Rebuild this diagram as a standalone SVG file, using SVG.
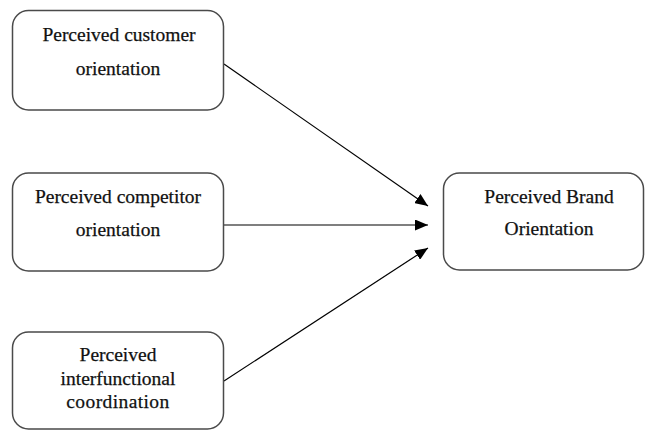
<svg xmlns="http://www.w3.org/2000/svg" width="645" height="430" viewBox="0 0 645 430">
<style>
.box{fill:#fff;stroke:#4a4a4a;stroke-width:1.5}
.t{font-family:"Liberation Serif","Times New Roman",serif;font-size:19.5px;fill:#111;stroke:#111;stroke-width:0.25;text-anchor:middle}
.c{stroke:#000;stroke-width:1.2;fill:none}
</style>
<defs>
<marker id="ah" markerWidth="13" markerHeight="11" refX="13" refY="5.5" orient="auto" markerUnits="userSpaceOnUse">
<path d="M0,0 L13,5.5 L0,11 Z" fill="#000"/>
</marker>
</defs>
<rect width="645" height="430" fill="#fff"/>
<g id="connectors">
<line class="c" x1="224" y1="64" x2="428" y2="206" marker-end="url(#ah)"/>
<line class="c" x1="224" y1="225" x2="428" y2="225" marker-end="url(#ah)"/>
<line class="c" x1="224" y1="381" x2="428" y2="248" marker-end="url(#ah)"/>
</g>
<g id="customer">
<rect class="box" x="12.5" y="10.5" width="211" height="99.5" rx="16"/>
<text class="t" x="119" y="41">Perceived customer</text>
<text class="t" x="118" y="75">orientation</text>
</g>
<g id="competitor">
<rect class="box" x="12.5" y="173" width="211" height="98" rx="16"/>
<text class="t" x="118" y="203">Perceived competitor</text>
<text class="t" x="118" y="236">orientation</text>
</g>
<g id="interfunctional">
<rect class="box" x="12.5" y="332" width="211" height="97" rx="16"/>
<text class="t" x="118" y="361">Perceived</text>
<text class="t" x="118" y="385">interfunctional</text>
<text class="t" x="118" y="408" letter-spacing="0.4">coordination</text>
</g>
<g id="brand">
<rect class="box" x="443.5" y="173" width="200" height="97" rx="16"/>
<text class="t" x="549" y="203">Perceived Brand</text>
<text class="t" x="549" y="235">Orientation</text>
</g>
</svg>
